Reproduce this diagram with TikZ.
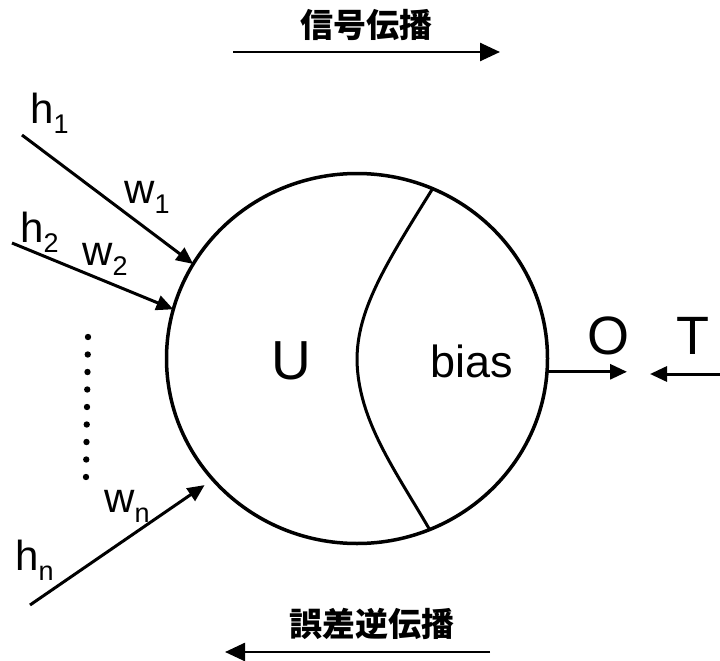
\documentclass[tikz,border=0pt]{standalone}
\usepackage{fontspec}
\setmainfont{Liberation Sans}
\newfontfamily\cjk{Noto Sans CJK JP}
\usetikzlibrary{arrows.meta,shapes.geometric}
\newcommand\sbs[1]{\raisebox{-10pt}{\fontsize{27}{27}\selectfont #1}}
\begin{document}
\begin{tikzpicture}[x=1pt,y=-1pt,
  lbl/.style={inner sep=0, anchor=base west, font=\fontsize{42}{42}\selectfont},
  inarr/.style={-{Triangle[length=17pt,width=15pt]}, line width=3pt},
  flow/.style={-{Triangle[length=20pt,width=18pt]}, line width=2.6pt},
  cjklbl/.style={inner sep=0, font=\cjk\bfseries\fontsize{33}{33}\selectfont}]
\useasboundingbox (0,0) rectangle (720,661);
\fill[white] (0,0) rectangle (720,661);
% neuron
\node[draw, ellipse, line width=3.5pt, minimum width=381pt, minimum height=370pt, inner sep=0, outer sep=0] (neuron) at (357,358.5) {};
\draw[line width=3pt] (neuron.66) .. controls (385,265) and (357,310) .. (357,360) .. controls (358,420) and (395,470) .. (neuron.-67);
\node[lbl, font=\fontsize{55}{55}\selectfont] (u) at (271,379) {U};
\node[lbl, font=\fontsize{45}{45}\selectfont] (bias) at (430,377) {bias};
% inputs
\coordinate (s1) at (22,135);
\coordinate (s2) at (12,243);
\coordinate (sn) at (30,605);
\draw[inarr] (s1) -- (neuron.150);
\draw[inarr] (s2) -- (neuron.165);
\draw[inarr, shorten >=10pt] (sn) -- (neuron.220);
\node[lbl] (h1) at (30,123) {h\sbs{1}};
\node[lbl] (h2) at (20,242) {h\sbs{2}};
\node[lbl] (hn) at (15,570) {h\sbs{n}};
\node[lbl] (w1) at (124,203) {w\sbs{1}};
\node[lbl] (w2) at (82,265) {w\sbs{2}};
\node[lbl] (wn) at (104,512) {w\sbs{n}};
\foreach \i in {0,...,8} \fill (88-0.25*\i, 337+17.5*\i) circle (3.2pt);
% output / target
\coordinate (oend) at (627,372);
\draw[inarr] (neuron.-4) -- (neuron.-4 -| oend);
\node[lbl, font=\fontsize{54}{54}\selectfont] (o) at (587,354) {O};
\coordinate (tstart) at (720,374);
\coordinate (tend) at (650,374);
\draw[inarr] (tstart) -- (tend);
\node[lbl, font=\fontsize{54}{54}\selectfont] (t) at (676,354) {T};
% propagation arrows
\coordinate (fs) at (233,52);
\coordinate (fe) at (500,52);
\draw[flow] (fs) -- (fe);
\node[cjklbl] (sig) at (366,25) {信号伝播};
\coordinate (bs) at (490,652);
\coordinate (be) at (225,652);
\draw[flow] (bs) -- (be);
\node[cjklbl] (err) at (372,624) {誤差逆伝播};
\end{tikzpicture}
\end{document}
